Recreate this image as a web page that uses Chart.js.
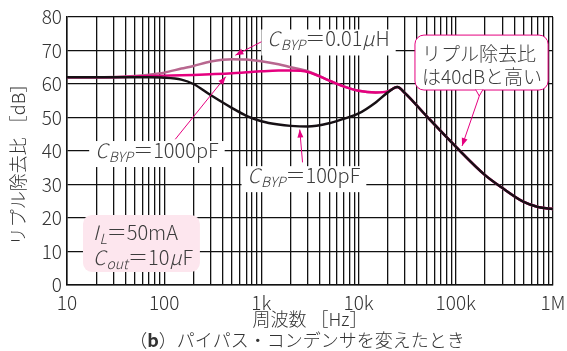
<!DOCTYPE html>
<html>
<head>
<meta charset="utf-8">
<script src="https://cdn.jsdelivr.net/npm/chart.js@4.4.0/dist/chart.umd.min.js"></script>
<style>
html,body{margin:0;padding:0;background:#fff}
canvas{display:block}
</style>
</head>
<body>
<canvas id="chart" width="567" height="351"></canvas>
<script>
// frequency points [Hz] shared by all three curves
const freqs=[10,20,30,50,70,100,150,200,300,500,700,1000,1500,2000,3000,5000,7000,10000,15000,20000,25000,30000,50000,100000,200000,300000,500000,700000,1000000]

// ripple rejection [dB]
const c100pF=[62,62,62,62,62,61.9,61.3,60,56.7,52.8,50.5,48.9,47.9,47.5,47.3,48.3,49.6,51.2,54.5,57.5,59.1,57.3,50.4,41.3,32.8,29,24.8,23.3,22.7]
const c1000pF=[62,62,62,62.2,62.4,62.5,62.6,62.7,62.9,63.2,63.5,63.8,64,64,63.6,61,59.3,58,57.5,57.8,59.1,57.3,50.4,41.3,32.8,29,24.8,23.3,22.7]
const c001uH=[62,62,62.1,62.4,62.8,63.4,64.6,65.4,66.7,67.4,67.3,66.8,65.9,65,63.8,61,59.3,58,57.5,57.8,59.1,57.3,50.4,41.3,32.8,29,24.8,23.3,22.7]

const xTickVals=[10,100,1000,10000,100000,1000000]
const xTickLabels=["10","100","1k","10k","100k","1M"]

const F="'Noto Sans CJK JP','Noto Sans',sans-serif"
const PINK='#e5007f'
const TXT='#3c3c3c'

// vertical grid at 1..9 of every decade
let gridFreqs=[]
for(let e=1;e<6;e++){
for(let m=1;m<10;m++)gridFreqs.push(m*Math.pow(10,e))
}
gridFreqs.push(1000000)

function pts(vals){
return freqs.map((f,i)=>({x:f,y:vals[i]}))
}

function P(chart,f,db){
return {x:chart.scales.x.getPixelForValue(f),y:chart.scales.y.getPixelForValue(db)}
}

// text with italic letters and subscripts
function rich(ctx,x,y,parts,size,draw){
let w=0
for(const p of parts){
let s=p.sub?Math.round(size*0.7):size
ctx.font=(p.it||p.sub?'italic ':'')+'300 '+s+'px '+F
if(draw)ctx.fillText(p.t,x+w,y+(p.sub?size*0.2:0))
w+=ctx.measureText(p.t).width+(p.it?1:0)
}
return w
}

function label(ctx,x,y,parts,size){
let w=rich(ctx,x,y,parts,size,false)
ctx.fillStyle='#fff'
ctx.fillRect(x-6,y-size*0.85,w+12,size*1.3)
ctx.fillStyle=TXT
rich(ctx,x,y,parts,size,true)
}

function arrow(ctx,a,b){
ctx.strokeStyle=PINK
ctx.fillStyle=PINK
ctx.lineWidth=1
ctx.beginPath()
ctx.moveTo(a.x,a.y)
ctx.lineTo(b.x,b.y)
ctx.stroke()
let ang=Math.atan2(b.y-a.y,b.x-a.x),L=8,W=3
ctx.beginPath()
ctx.moveTo(b.x,b.y)
ctx.lineTo(b.x-L*Math.cos(ang)+W*Math.sin(ang),b.y-L*Math.sin(ang)-W*Math.cos(ang))
ctx.lineTo(b.x-L*Math.cos(ang)-W*Math.sin(ang),b.y-L*Math.sin(ang)+W*Math.cos(ang))
ctx.closePath()
ctx.fill()
}

function roundBox(ctx,x0,y0,x1,y1,r){
ctx.beginPath()
ctx.roundRect(x0,y0,x1-x0,y1-y0,r)
}

const notes={
id:'notes',
afterDraw(chart){
const ctx=chart.ctx
ctx.save()
ctx.textBaseline='alphabetic'

// C_BYP = 0.01uH
let p=P(chart,1150,71.2)
label(ctx,p.x,p.y,[{t:'C',it:true},{t:'BYP',sub:true},{t:'＝0.01'},{t:'µ',it:true},{t:'H'}],20)
arrow(ctx,P(chart,1000,72.6),P(chart,540,68.6))

// C_BYP = 1000pF
p=P(chart,19.5,37.9)
label(ctx,p.x,p.y,[{t:'C',it:true},{t:'BYP',sub:true},{t:'＝1000pF'}],20)
arrow(ctx,P(chart,130,43.5),P(chart,430,62.2))

// C_BYP = 100pF
p=P(chart,720,30.4)
label(ctx,p.x,p.y,[{t:'C',it:true},{t:'BYP',sub:true},{t:'＝100pF'}],20)
arrow(ctx,P(chart,2650,36.6),P(chart,2480,46.4))

// callout box
let a=P(chart,38000,74.6),b=P(chart,890000,58.2)
let t1=P(chart,160000,58.2),t2=P(chart,190000,58.2),tip=P(chart,116000,41.5)
ctx.fillStyle='#fff'
ctx.strokeStyle=PINK
ctx.lineWidth=1
roundBox(ctx,a.x,a.y,b.x,b.y,9)
ctx.fill()
ctx.stroke()
ctx.beginPath()
ctx.moveTo(t1.x,b.y)
ctx.lineTo((t1.x+t2.x)/2,b.y+6)
ctx.lineTo(t2.x,b.y)
ctx.fill()
ctx.beginPath()
ctx.moveTo(t1.x,b.y-0.5)
ctx.lineTo((t1.x+t2.x)/2,b.y+6)
ctx.lineTo(t2.x,b.y-0.5)
ctx.stroke()
arrow(ctx,{x:(t1.x+t2.x)/2,y:b.y+6},tip)
ctx.fillStyle=TXT
ctx.font='300 19px '+F
p=P(chart,45000,66.9)
ctx.fillText('リプル除去比',p.x,p.y)
p=P(chart,45000,60)
ctx.fillText('は40dBと高い',p.x,p.y)

// condition box
a=P(chart,14.6,20.9)
b=P(chart,233,3.9)
ctx.fillStyle='#fde6ee'
roundBox(ctx,a.x,a.y,b.x,b.y,9)
ctx.fill()
ctx.fillStyle=TXT
p=P(chart,18.5,13.4)
rich(ctx,p.x,p.y,[{t:'I',it:true},{t:'L',sub:true},{t:'＝50mA'}],20,true)
p=P(chart,18.5,6)
rich(ctx,p.x,p.y,[{t:'C',it:true},{t:'out',sub:true},{t:'＝10'},{t:'µ',it:true},{t:'F'}],20,true)

// y axis title
ctx.fillStyle='#333'
ctx.font='300 18px '+F
ctx.textAlign='center'
ctx.textBaseline='middle'
ctx.translate(18,160)
ctx.rotate(-Math.PI/2)
ctx.fillText('リプル除去比 ［dB］',0,0)
ctx.restore()

// caption
ctx.save()
ctx.fillStyle='#333'
ctx.textBaseline='middle'
let cap=[{t:'（',b:false},{t:'b',b:true},{t:'）パイパス・コンデンサを変えたとき',b:false}]
let w=0
for(const c of cap){ctx.font=(c.b?'bold ':'300 ')+'18px '+F;w+=ctx.measureText(c.t).width}
let x=297-w/2
for(const c of cap){ctx.font=(c.b?'bold ':'300 ')+'18px '+F;ctx.fillText(c.t,x,340);x+=ctx.measureText(c.t).width}
ctx.restore()
}
}

new Chart(document.getElementById('chart'),{
type:'line',
data:{
datasets:[
{label:'100pF',data:pts(c100pF),borderColor:'#161014',borderWidth:2.5},
{label:'1000pF',data:pts(c1000pF),borderColor:PINK,borderWidth:2.5},
{label:'0.01uH',data:pts(c001uH),borderColor:'#b8678f',borderWidth:2.5}
]
},
options:{
responsive:false,
animation:false,
layout:{padding:{top:17,right:14,bottom:21,left:0}},
elements:{point:{radius:0},line:{cubicInterpolationMode:'monotone'}},
plugins:{legend:{display:false},tooltip:{enabled:false}},
scales:{
x:{
type:'logarithmic',
min:10,
max:1000000,
afterBuildTicks(s){s.ticks=gridFreqs.map(v=>({value:v}))},
afterFit(s){s.height=45;s.paddingLeft=0;s.paddingRight=0},
ticks:{
autoSkip:false,
maxRotation:0,
padding:6,
color:'#333',
font:{size:19,family:F,weight:300},
callback(v){
let i=xTickVals.indexOf(v)
return i<0?'':xTickLabels[i]
}
},
grid:{color:'#111',lineWidth:1.3,drawTicks:false},
border:{color:'#111',width:1.5},
title:{display:true,text:'周波数 ［Hz］',color:'#333',font:{size:18,family:F,weight:300},padding:{top:0,bottom:0}}
},
y:{
min:0,
max:80,
afterFit(s){s.width=67},
ticks:{stepSize:10,padding:5,color:'#333',font:{size:19,family:F,weight:300}},
grid:{color:'#111',lineWidth:1.3,drawTicks:false},
border:{color:'#111',width:1.5}
}
}
},
plugins:[notes]
})
</script>
</body>
</html>
